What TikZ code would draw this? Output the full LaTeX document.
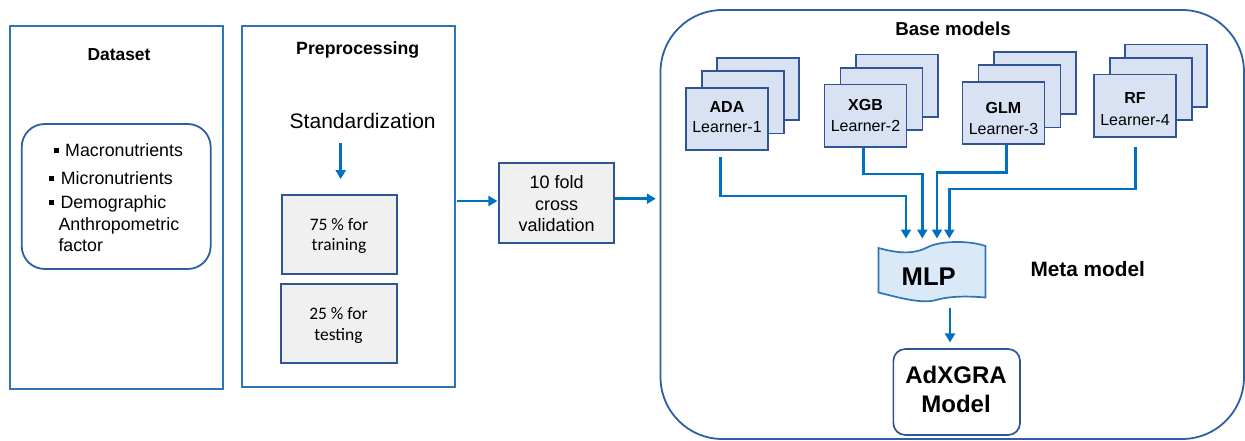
\documentclass[tikz,border=0pt]{standalone}
\usepackage{fontspec}
\setmainfont{Liberation Sans}
\newfontfamily\calib{Carlito}
\usetikzlibrary{arrows.meta}
\definecolor{conn}{RGB}{0,112,192}
\definecolor{boxline}{RGB}{46,117,182}
\definecolor{darkline}{RGB}{44,95,165}
\definecolor{lborder}{RGB}{47,85,151}
\definecolor{lfill}{RGB}{216,226,243}
\definecolor{gfill}{RGB}{240,240,240}
\definecolor{mfill}{RGB}{218,233,247}
\newcommand{\fs}[2]{\fontsize{#1pt}{#2pt}\selectfont}
\newcommand{\bul}{\rule[3.7pt]{5pt}{5pt}}
\begin{document}
\begin{tikzpicture}[x=1pt,y=-1pt,
  outerbox/.style={draw=boxline,line width=1.7pt,inner sep=0pt},
  graybox/.style={draw=lborder,fill=gfill,line width=1.8pt,inner sep=0pt},
  learner/.style={draw=lborder,fill=lfill,line width=1.7pt,minimum width=82pt,minimum height=62.5pt,inner sep=0pt},
  txt/.style={inner sep=0pt,align=center},
  conn/.style={draw=conn,line width=2.6pt},
  arr/.style={conn,-{Triangle[length=9pt,width=10pt]}}
]
\useasboundingbox (0,0) rectangle (1245,441);

% ---------- Dataset ----------
\node[outerbox,minimum width=212.7pt,minimum height=363.6pt] (dataset) at (116.65,207.5) {};
\node[txt,font=\bfseries\fs{17.4}{20}] (dstitle) at (119,54.75) {Dataset};
\node[draw=darkline,line width=1.8pt,rounded corners=23pt,minimum width=189pt,minimum height=145pt,inner sep=0pt] (dsin) at (116.2,196.5) {};
\node[inner sep=0pt,anchor=base west,font=\fs{17.8}{20}] (l1) at (53.3,157) {\bul\hspace{6.7pt}Macronutrients};
\node[inner sep=0pt,anchor=base west,font=\fs{17.8}{20}] (l2) at (49,184.3) {\bul\hspace{6.7pt}Micronutrients};
\node[inner sep=0pt,anchor=base west,font=\fs{17.8}{20}] (l3) at (49,208.3) {\bul\hspace{6.3pt}Demographic};
\node[inner sep=0pt,anchor=base west,font=\fs{17.8}{20}] (l4) at (58.3,230) {Anthropometric};
\node[inner sep=0pt,anchor=base west,font=\fs{17.8}{20}] (l5) at (58.3,251.7) {factor};

% ---------- Preprocessing ----------
\node[outerbox,minimum width=213pt,minimum height=361.6pt] (prep) at (348.2,206.5) {};
\node[txt,font=\bfseries\fs{17.7}{20}] (preptitle) at (357.7,49.8) {Preprocessing};
\node[txt,font=\fs{21}{24}] (std) at (362.7,121.4) {Standardization};
\node[graybox,minimum width=115pt,minimum height=79.3pt] (train) at (339.2,234.65) {};
\node[txt,font=\calib\fs{17.5}{20.7}] (traintxt) at (339,236) {75 \% for\\training};
\node[graybox,minimum width=116pt,minimum height=79pt] (test) at (338.7,323.8) {};
\node[txt,font=\calib\fs{17.5}{21.4}] (testtxt) at (338.5,325.6) {25 \% for\\testing};
\draw[arr] ([xshift=1.5pt,yshift=51pt]train.north) -- ([xshift=1.5pt,yshift=15pt]train.north);

% ---------- Cross validation ----------
\node[graybox,minimum width=114.7pt,minimum height=79.4pt] (cv) at (556.65,203) {};
\node[txt,font=\fs{18}{21.35}] (cvtxt) at (556.7,203.8) {10 fold\\cross\\validation};
\draw[arr] ([xshift=1.7pt,yshift=2pt]cv.west -| prep.east) -- ([xshift=-1pt,yshift=2pt]cv.west);

% ---------- Base models ----------
\node[draw=darkline,line width=1.8pt,rounded corners=62pt,minimum width=583.5pt,minimum height=429pt,inner sep=0pt] (base) at (952.25,224.5) {};
\draw[arr] ([yshift=4.3pt]cv.east) -- ([xshift=-3.8pt,yshift=4.3pt]cv.east -| base.west);
\node[txt,font=\bfseries\fs{18.7}{22}] (basetitle) at (953,29.2) {Base models};

% ADA
\node[learner] (ada2) at (758.3,89) {};
\node[learner] (ada1) at (743,102.3) {};
\node[learner] (ada) at (727,119) {};
\node[txt,font=\fs{16}{20.4}] (adatxt) at (727,116.8) {\textbf{ADA}\\Learner-1};
% XGB
\node[learner] (xgb2) at (896.8,85.7) {};
\node[learner] (xgb1) at (881.5,99) {};
\node[learner] (xgb) at (865.5,115.7) {};
\node[txt,font=\fs{16}{20.7}] (xgbtxt) at (865.5,115.6) {\textbf{XGB}\\Learner-2};
% GLM
\node[learner] (glm2) at (1034.8,83) {};
\node[learner] (glm1) at (1019.5,96.3) {};
\node[learner] (glm) at (1003.5,113) {};
\node[txt,font=\fs{16}{21.7}] (glmtxt) at (1003.5,118.4) {\textbf{GLM}\\Learner-3};
% RF
\node[learner] (rf2) at (1166.2,75.8) {};
\node[learner] (rf1) at (1150.9,89.1) {};
\node[learner] (rf) at (1134.9,105.8) {};
\node[txt,font=\fs{16}{22}] (rftxt) at (1135,109.3) {\textbf{RF}\\Learner-4};

% MLP tape
\draw[draw=boxline,fill=mfill,line width=1.7pt]
  (878.5,248) .. controls (900,254) and (915,254) .. (928,247)
  .. controls (940,241) and (968,240) .. (985.5,246)
  -- (985.5,297.5)
  .. controls (968,296) and (950,296) .. (936,300)
  .. controls (922,304) and (900,298) .. (878.5,292.5) -- cycle;
\node[txt,font=\bfseries\fs{25.6}{28}] (mlp) at (928.7,276.8) {MLP};
\node[txt,font=\bfseries\fs{20.8}{24}] (meta) at (1087.7,269.1) {Meta model};

\coordinate (in1) at (906,238.5);
\coordinate (in2) at (922.3,238.5);
\coordinate (in3) at (937,238.5);
\coordinate (in4) at (949.3,238.5);
\draw[arr] ([xshift=-6.3pt,yshift=-5.75pt]ada.south) -- ++(0,39) -| (in1);
\draw[arr] ([xshift=-2.2pt]xgb.south) -- ++(0,26) -| (in2);
\draw[arr] ([xshift=2.8pt]glm.south) -- ++(0,27.5) -| (in3);
\draw[arr] ([xshift=0.8pt,yshift=-9.6pt]rf.south) -- ++(0,41.6) -| (in4);

% AdXGRA
\node[draw=lborder,line width=1.7pt,rounded corners=12pt,minimum width=126.7pt,minimum height=86pt,inner sep=0pt] (adx) at (956.7,392) {};
\node[txt,font=\bfseries\fs{24}{28.3}] (adxtxt) at (956,389.4) {AdXGRA\\Model};
\draw[arr] ([xshift=21.3pt,yshift=-21.7pt]mlp.south) -- ([xshift=-6.7pt,yshift=5.7pt]adx.north);
\end{tikzpicture}
\end{document}
